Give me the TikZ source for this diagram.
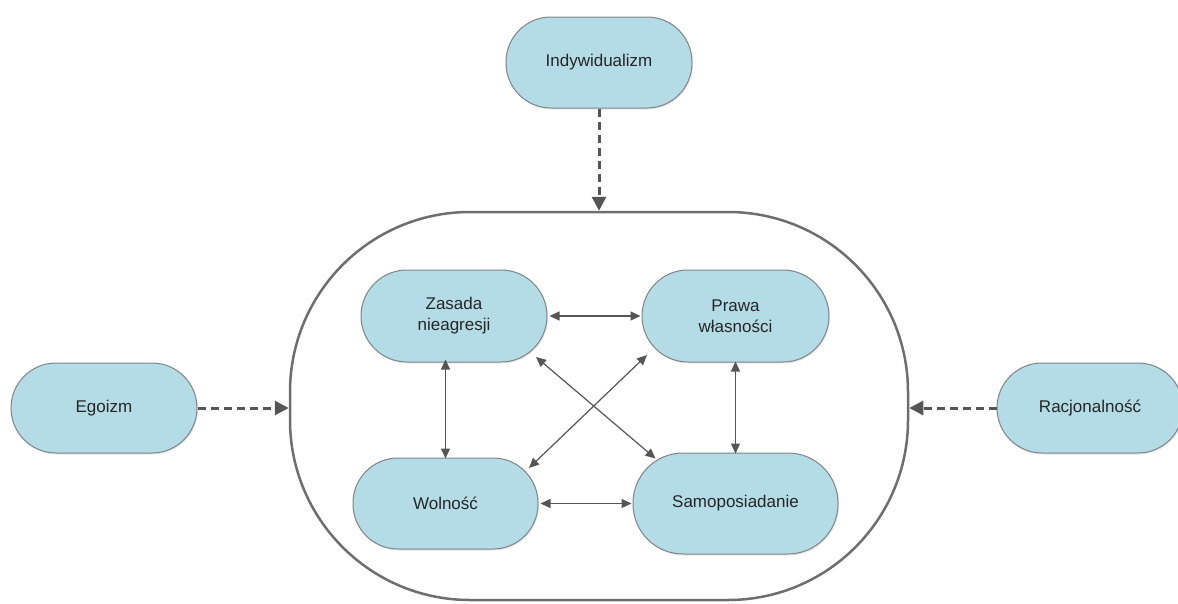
\documentclass[tikz,border=0pt]{standalone}
\usepackage{fontspec}
\setmainfont{Liberation Sans}
\usetikzlibrary{arrows.meta,calc,shadows}
\definecolor{nodefill}{HTML}{B4DCE6}
\definecolor{nodeline}{HTML}{7E8486}
\definecolor{boxline}{HTML}{6E6E6E}
\definecolor{arrowcol}{HTML}{555555}
\definecolor{textcol}{HTML}{262626}
\begin{document}
\begin{tikzpicture}[x=1pt,y=-1pt,
  pill/.style={draw=nodeline, line width=1pt, fill=nodefill, rounded corners=#1,
    text=textcol, align=center, font=\fontsize{17}{21}\selectfont,
    inner sep=0pt, drop shadow={opacity=0.18, shadow xshift=1pt, shadow yshift=-1.5pt}},
  container/.style={draw=boxline, line width=2.5pt, rounded corners=180pt, inner sep=0pt},
  dasharrow/.style={draw=arrowcol, line width=3pt, dash pattern=on 8pt off 5pt,
    -{Triangle[length=14pt,width=14pt]}},
  biarrow/.style={draw=arrowcol, line width=1.2pt,
    {Triangle[length=10pt,width=9pt]}-{Triangle[length=10pt,width=9pt]}}
]
\clip (0,0) rectangle (1178,603);
\useasboundingbox (0,0) rectangle (1178,603);

\node[container, minimum width=618pt, minimum height=388pt] (box) at (599,406) {};

\node[pill=45pt, minimum width=186pt, minimum height=91pt] (ind) at (599,62.5) {Indywidualizm};
\node[pill=45pt, minimum width=186pt, minimum height=90pt] (ego) at (104,408) {Egoizm};
\node[pill=45pt, minimum width=186pt, minimum height=90pt] (rac) at (1090,408) {Racjonalność};

\node[pill=46pt, minimum width=186pt, minimum height=92pt] (zas) at (454,316) {Zasada\\nieagresji};
\node[pill=46pt, minimum width=187pt, minimum height=92pt] (pra) at (735.5,316) {Prawa\\własności};
\node[pill=45pt, minimum width=185pt, minimum height=91pt] (wol) at (445.5,503.5) {Wolność};
\node[pill=50pt, minimum width=205pt, minimum height=101pt] (sam) at (735.5,503.5) {Samoposiadanie};

\draw[dasharrow] (ind.south) -- (box.north);
\draw[dasharrow] (ego.east) -- (ego.east -| box.west);
\draw[dasharrow] (rac.west) -- (rac.west -| box.east);

\draw[biarrow] ([xshift=2pt]zas.east) -- ([xshift=-1pt]pra.west);
\draw[biarrow] ([xshift=2pt]wol.east) -- ([xshift=-1pt]sam.west);
\draw[biarrow] ([yshift=3pt]wol.north |- zas.south) -- ([yshift=-1pt]wol.north);
\draw[biarrow] ([yshift=1pt]pra.south) -- ([yshift=-1pt]sam.north);
\draw[biarrow] ($(zas.center)+(82,41)$) -- ($(sam.center)+(-80,-45)$);
\draw[biarrow] ($(pra.center)+(-88.5,39)$) -- ($(wol.center)+(83.5,-35.5)$);
\end{tikzpicture}
\end{document}
